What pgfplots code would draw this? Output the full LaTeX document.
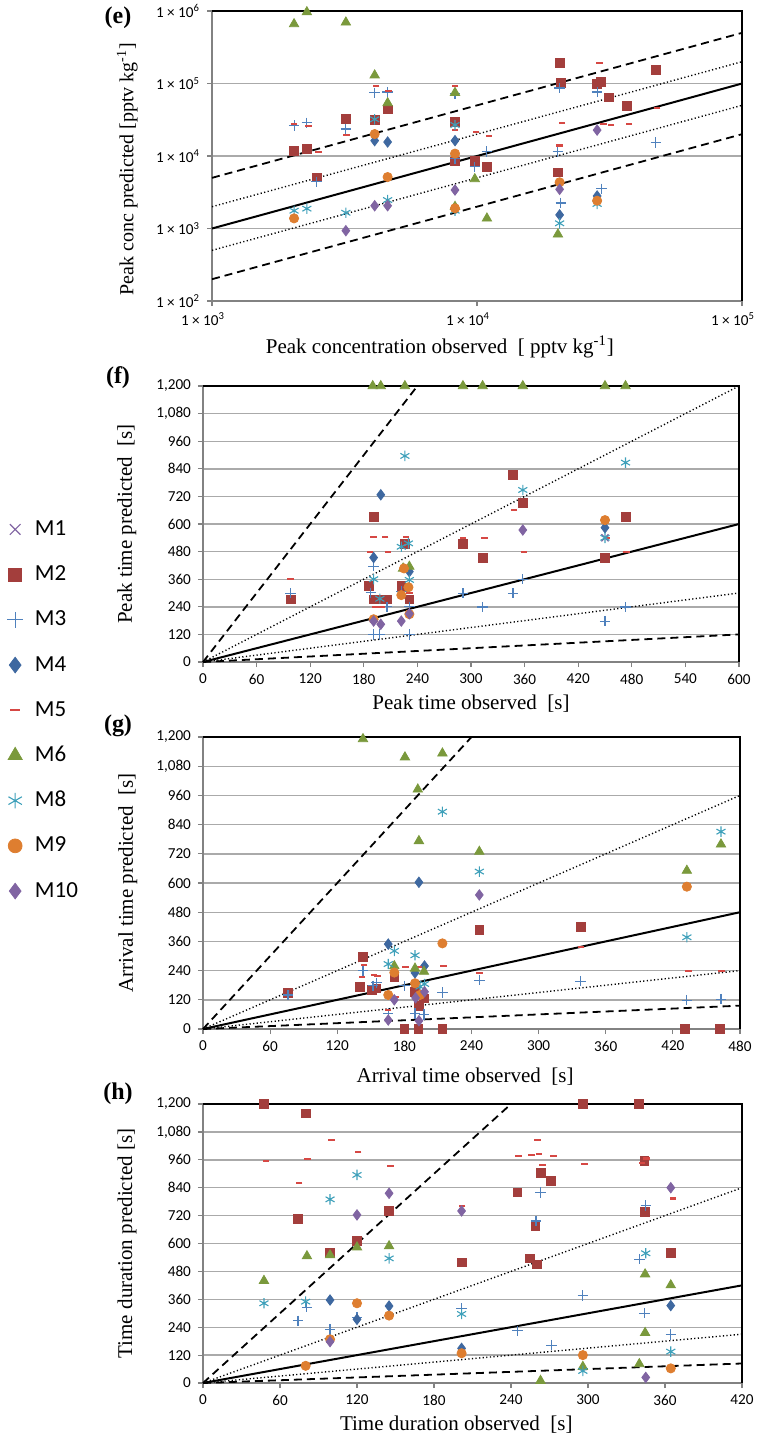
\documentclass[border=0pt]{standalone}
\usepackage{fontspec}
\setmainfont{Liberation Serif}
\newfontfamily\carlito{Carlito}
\usepackage{pgfplots}
\pgfplotsset{compat=1.18}

\definecolor{cM1}{RGB}{128,100,162}
\definecolor{cM2}{RGB}{163,62,60}
\definecolor{cM3}{RGB}{79,129,189}
\definecolor{cM4}{RGB}{62,104,160}
\definecolor{cM5}{RGB}{214,72,68}
\definecolor{cM6}{RGB}{122,153,60}
\definecolor{cM8}{RGB}{62,160,186}
\definecolor{cM9}{RGB}{222,126,48}
\definecolor{cM10}{RGB}{128,100,162}
\definecolor{gridgray}{RGB}{170,170,170}
\definecolor{axisgray}{RGB}{130,130,130}

\newcommand{\ticksz}{\carlito\fontsize{7.6}{8}\selectfont}
\newcommand{\labsz}{\fontsize{10.5}{12}\selectfont}

\pgfplotsset{
  panel/.style={
    scale only axis, clip=false,
    ymajorgrids, grid style={color=gridgray, line width=0.7pt},
    axis line style={color=axisgray, line width=0.6pt},
    tick align=outside, xtick pos=bottom, ytick pos=left,
    major tick length=2.5pt,
    tick style={color=axisgray, line width=0.6pt},
    tick label style={font=\ticksz},
    /pgf/number format/assume math mode=true,
    /pgf/number format/1000 sep={,},
    label style={font=\labsz},
    scaled ticks=false,
  },
  m1/.style={only marks, mark=x, mark size=2.5pt, color=cM1, line width=0.6pt},
  m2/.style={only marks, mark=square*, mark size=2.2pt, color=cM2},
  m3/.style={only marks, mark=+, mark size=2.6pt, color=cM3, line width=0.55pt},
  m4/.style={only marks, mark=diamond*, mark size=2.6pt, color=cM4},
  m5/.style={only marks, mark=-, mark size=1.6pt, color=cM5, line width=1.1pt},
  m6/.style={only marks, mark=triangle*, mark size=2.7pt, color=cM6},
  m8/.style={only marks, mark=asterisk, mark size=2.6pt, color=cM8, line width=0.55pt},
  m9/.style={only marks, mark=*, mark size=2.3pt, color=cM9},
  m10/.style={only marks, mark=diamond*, mark size=2.6pt, color=cM10},
  one/.style={black, line width=1pt, forget plot},
  two/.style={black, line width=0.7pt, dash pattern=on 0.6pt off 1.2pt, forget plot},
  five/.style={black, line width=0.9pt, dash pattern=on 4pt off 2.5pt, forget plot},
}

\begin{document}
\begin{tikzpicture}
\useasboundingbox (0,0) rectangle (379.5pt,-721pt);

% (e) peak concentration
\begin{axis}[panel, at={(106pt,-150.5pt)}, anchor=south west,
  width=265pt, height=145pt,
  xmode=log, ymode=log, xmin=1000, xmax=100000, ymin=100, ymax=1000000,
  xminorticks=false, yminorticks=false,
  xtick={1000,10000,100000},
  xticklabels={1 × 10\textsuperscript{3}, 1 × 10\textsuperscript{4}, 1 × 10\textsuperscript{5}},
  xticklabel style={xshift=-4.5pt},
  ytick={100,1000,10000,100000,1000000},
  yticklabels={1 × 10\textsuperscript{2}, 1 × 10\textsuperscript{3}, 1 × 10\textsuperscript{4}, 1 × 10\textsuperscript{5}, 1 × 10\textsuperscript{6}},
  xlabel={Peak concentration observed \ [ pptv kg\textsuperscript{-1}]},
  ylabel={Peak conc predicted [pptv kg\textsuperscript{-1}]},
  xlabel style={at={(axis description cs:0.43,-0.159)}, anchor=center},
  ylabel style={at={(axis description cs:-0.160,0.455)}, anchor=center, font=\fontsize{10}{12}\selectfont},
]
\addplot[one] coordinates {(1000,1000) (100000,100000)};
\addplot[two] coordinates {(1000,2000) (100000,200000)};
\addplot[two] coordinates {(1000,500) (100000,50000)};
\addplot[five] coordinates {(1000,5000) (100000,500000)};
\addplot[five] coordinates {(1000,200) (100000,20000)};
\addplot[m2] coordinates {(2040,11700) (2280,12500) (2480,5080) (3200,32700) (4110,31700) (4600,44100) (8260,29200) (8260,8450) (9810,8600) (10900,7120) (20200,5960) (20500,194000) (20700,103000) (28400,98400) (29400,105000) (31500,64500) (36800,49000) (47300,153000)};
\addplot[m3] coordinates {(2040,26500) (2280,28800) (2480,4420) (3200,23600) (4110,74700) (4600,76400) (8260,73300) (8260,9300) (9810,7120) (10900,11500) (20200,11500) (20500,86700) (20700,2250) (28400,76400) (29500,3540) (47300,15300)};
\addplot[m4] coordinates {(4110,16300) (4600,15600) (8260,16300) (20500,1540) (28400,2810)};
\addplot[m5] coordinates {(2040,27600) (2310,26200) (2520,11300) (3220,19700) (4160,92500) (4630,79500) (8260,92500) (8260,22800) (9910,21400) (11070,18900) (20500,14000) (20900,28800) (29000,194000) (30000,27600) (32000,26800) (37400,27600) (47800,45500)};
\addplot[m6] coordinates {(2040,662000) (2280,968000) (3200,698000) (4110,130000) (4600,53900) (8260,74700) (8260,2000) (9810,4820) (10900,1380) (20200,832)};
\addplot[m8] coordinates {(2040,1760) (2280,1880) (3200,1650) (4110,32100) (4600,2470) (8260,26800) (8260,1760) (20500,1180) (28400,2180)};
\addplot[m9] coordinates {(2040,1380) (4110,20100) (4600,5130) (8260,10800) (8260,1900) (20500,4340) (28400,2420)};
\addplot[m10] coordinates {(3200,933) (4110,2060) (4600,2060) (8260,3400) (20500,3470) (28400,22800)};
\draw[black, line width=0.6pt] (rel axis cs:0,1) -- (rel axis cs:1,1) -- (rel axis cs:1,0);
\end{axis}

% (f) peak time
\begin{axis}[panel, at={(101.5pt,-331pt)}, anchor=south west,
  width=268pt, height=138pt,
  xmin=0, xmax=600, ymin=0, ymax=1200,
  xtick distance=60, ytick distance=120,
  xlabel={Peak time observed \ [s]},
  ylabel={Peak time predicted \ [s]},
  xlabel style={at={(axis description cs:0.5,-0.149)}, anchor=center},
  ylabel style={at={(axis description cs:-0.142,0.5)}, anchor=center},
  legend style={at={(axis description cs:-0.3657,0.518)}, anchor=north west,
    draw=none, fill=none, inner sep=0pt, column sep=5pt,
    font=\carlito\fontsize{11.5}{13}\selectfont, row sep=12.6pt,
    nodes={inner sep=1pt, text height=7pt, text depth=1pt}},
  legend cell align=left,
  legend image post style={mark options={scale=1.5}},
]
\addplot[one] coordinates {(0,0) (600,600)};
\addplot[two] coordinates {(0,0) (600,1200)};
\addplot[two] coordinates {(0,0) (600,300)};
\addplot[five] coordinates {(0,0) (240,1200)};
\addplot[five] coordinates {(0,0) (600,120)};
\addplot[m1] coordinates {(450,540)};
\addplot[m2] coordinates {(98,272) (191,632) (186,330) (191,272) (199,272) (206,272) (222,332) (231,272) (226,512) (291,512) (313,451) (347,812) (358,693) (450,451) (473,632)};
\addplot[m3] coordinates {(98,299) (191,417) (188,301) (206,240) (191,120) (198,120) (231,120) (222,306) (231,240) (291,299) (313,239) (347,299) (358,360) (450,178) (473,239)};
\addplot[m4] coordinates {(199,727) (191,454) (231,393) (450,584)};
\addplot[m5] coordinates {(98,360) (191,542) (204,542) (227,542) (187,480) (207,480) (193,240) (200,240) (231,301) (291,540) (315,540) (348,661) (359,480) (452,540) (474,480)};
\addplot[m6] coordinates {(190,1200) (199,1200) (226,1200) (291,1200) (313,1200) (358,1200) (450,1200) (473,1200) (224,407) (231,415)};
\addplot[m8] coordinates {(226,896) (198,275) (191,360) (222,501) (230,516) (231,357) (358,748) (473,867) (450,540)};
\addplot[m9] coordinates {(191,186) (225,407) (230,325) (222,291) (231,208) (450,617)};
\addplot[m10] coordinates {(191,178) (199,164) (222,178) (231,210) (358,574)};
\legend{M1,M2,M3,M4,M5,M6,M8,M9,M10}
\draw[black, line width=0.6pt] (rel axis cs:0,1) -- (rel axis cs:1,1) -- (rel axis cs:1,0);
\end{axis}

% (g) arrival time
\begin{axis}[panel, at={(101.5pt,-514.5pt)}, anchor=south west,
  width=268.5pt, height=146pt,
  xmin=0, xmax=480, ymin=0, ymax=1200,
  xtick distance=60, ytick distance=120,
  xlabel={Arrival time observed \ [s]},
  ylabel={Arrival time predicted \ [s]},
  xlabel style={at={(axis description cs:0.488,-0.164)}, anchor=center},
  ylabel style={at={(axis description cs:-0.140,0.5)}, anchor=center},
]
\addplot[one] coordinates {(0,0) (480,480)};
\addplot[two] coordinates {(0,0) (480,960)};
\addplot[two] coordinates {(0,0) (480,240)};
\addplot[five] coordinates {(0,0) (240,1200)};
\addplot[five] coordinates {(0,0) (480,96)};
\addplot[m2] coordinates {(76,149) (143,296) (140,172) (151,160) (155,167) (171,215) (189.5,153) (193,95) (197.5,126) (180,0) (192.5,0) (214,0) (247,407) (337.5,420) (431,0) (462,0)};
\addplot[m3] coordinates {(76,140) (143,240) (152,177) (155,190) (180,177) (165.6,64) (189.5,64) (197.5,60) (214,150) (247,201) (337.5,197) (432.5,119) (463,123)};
\addplot[m4] coordinates {(193,603) (165.6,349) (198,259) (189.5,231)};
\addplot[m5] coordinates {(144,263) (142,215) (153,222) (156,218) (181,256) (215,259) (172.5,130) (165.6,78) (193,254) (247,231) (338,338) (434,240) (463.5,240)};
\addplot[m6] coordinates {(143,1192) (180.5,1117) (214,1133) (192,985) (193,773) (247,729) (432.5,651) (463,759) (171,259) (189.5,249) (197.5,236)};
\addplot[m8] coordinates {(214,893) (247,647) (432.5,377) (463,811) (171,321) (165.6,267) (189.5,303) (198,185) (194,174)};
\addplot[m9] coordinates {(165.6,140) (171,232) (189.5,188) (194,140) (214,352) (432.5,585)};
\addplot[m10] coordinates {(171,120) (190,128) (198,153) (165.6,37) (193,34) (247,551)};
\draw[black, line width=0.6pt] (rel axis cs:0,1) -- (rel axis cs:1,1) -- (rel axis cs:1,0);
\end{axis}

% (h) time duration
\begin{axis}[panel, at={(101.5pt,-691.5pt)}, anchor=south west,
  width=269.5pt, height=139.5pt,
  xmin=0, xmax=420, ymin=0, ymax=1200,
  xtick distance=60, ytick distance=120,
  xlabel={Time duration observed \ [s]},
  ylabel={Time duration predicted [s]},
  xlabel style={at={(axis description cs:0.47,-0.15)}, anchor=center},
  ylabel style={at={(axis description cs:-0.141,0.5)}, anchor=center},
]
\addplot[one] coordinates {(0,0) (420,420)};
\addplot[two] coordinates {(0,0) (420,840)};
\addplot[two] coordinates {(0,0) (420,210)};
\addplot[five] coordinates {(0,0) (240,1200)};
\addplot[five] coordinates {(0,0) (420,84)};
\addplot[m2] coordinates {(47.5,1200) (80,1160) (74,705) (99,562) (120,611) (145,740) (201.5,519) (296,1200) (339.5,1200) (245,820) (263,905) (271,870) (259,677) (255,536) (260,510) (344,955) (344.5,735) (364.5,558)};
\addplot[m3] coordinates {(74,268) (81,326) (99,231) (120,283) (201.5,321) (263,820) (259.5,697) (345,763) (340,533) (296,376) (245,224) (271.7,163) (344,300) (364.5,209)};
\addplot[m4] coordinates {(99,357) (120,274) (145,331) (201.5,149) (364.5,333)};
\addplot[m5] coordinates {(49,956) (81.5,962) (75,859) (100,1045) (121,992) (146,935) (202,763) (260.5,1045) (246,976) (256,981) (261.6,985) (273,976) (264.7,936) (297.4,942) (342,945) (345.7,966) (366,794)};
\addplot[m6] coordinates {(47.5,440) (81,546) (99,550) (120,584) (145,589) (263,10) (344.5,468) (364.5,421) (344.5,216) (340,82) (296,70)};
\addplot[m8] coordinates {(47.5,343) (80,350) (99,790) (120,895) (145,536) (201.5,297) (345,558) (364.5,135) (296,52)};
\addplot[m9] coordinates {(80,74) (120,343) (145,290) (99,188) (201.5,128) (296,120) (364.5,63)};
\addplot[m10] coordinates {(99,178) (120,723) (145,816) (201.5,740) (364.5,840) (345,24)};
\draw[black, line width=0.6pt] (rel axis cs:0,1) -- (rel axis cs:1,1) -- (rel axis cs:1,0);
\end{axis}

\node[font=\bfseries\fontsize{12}{14}\selectfont] at (59pt,-9pt) {(e)};
\node[font=\bfseries\fontsize{12}{14}\selectfont] at (59pt,-189pt) {(f)};
\node[font=\bfseries\fontsize{12}{14}\selectfont] at (59pt,-363pt) {(g)};
\node[font=\bfseries\fontsize{12}{14}\selectfont] at (59pt,-547pt) {(h)};
\end{tikzpicture}
\end{document}
